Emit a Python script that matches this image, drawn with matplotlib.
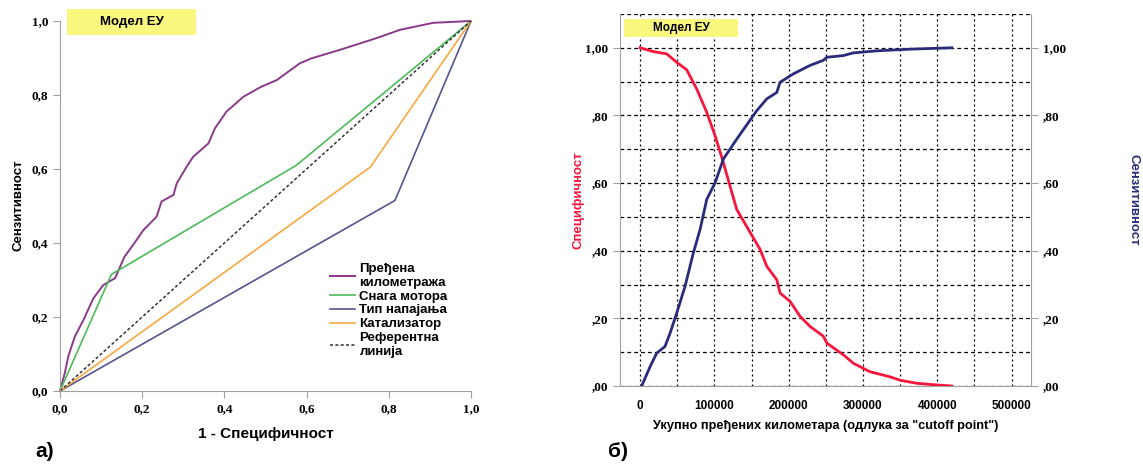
import numpy as np
import matplotlib
matplotlib.use('Agg')
import matplotlib.pyplot as plt
from matplotlib.patches import Rectangle

# ---- data: ROC curves (panel a)
km_fpr = [0, 0.012, 0.02, 0.036, 0.057, 0.081, 0.105, 0.134, 0.157, 0.178, 0.203,
          0.235, 0.247, 0.276, 0.284, 0.308, 0.324, 0.361, 0.377, 0.405, 0.446,
          0.489, 0.527, 0.584, 0.612, 0.681, 0.771, 0.827, 0.908, 1.0]
km_tpr = [0, 0.05, 0.093, 0.147, 0.192, 0.25, 0.286, 0.305, 0.363, 0.395, 0.435,
          0.471, 0.512, 0.53, 0.561, 0.606, 0.633, 0.669, 0.71, 0.755, 0.795,
          0.822, 0.84, 0.886, 0.899, 0.922, 0.954, 0.976, 0.995, 1.0]
power_fpr = [0, 0.125, 0.575, 1.0]
power_tpr = [0, 0.315, 0.61, 1.0]
fuel_fpr = [0, 0.815, 1.0]
fuel_tpr = [0, 0.515, 1.0]
cat_fpr = [0, 0.755, 1.0]
cat_tpr = [0, 0.605, 1.0]

# ---- data: cutoff curves (panel b)
spec_km = [0, 17500, 36000, 49400, 62800, 76300, 89800, 101000, 112100, 121100,
           130100, 145800, 161500, 170500, 184000, 188400, 201900, 215300, 228800,
           246700, 251200, 273600, 287100, 309600, 336500, 350000, 372400, 399300, 419500]
spec_val = [1.0, 0.989, 0.982, 0.957, 0.935, 0.878, 0.809, 0.74, 0.661, 0.591,
            0.522, 0.463, 0.404, 0.354, 0.314, 0.275, 0.25, 0.206, 0.176,
            0.147, 0.127, 0.092, 0.067, 0.042, 0.027, 0.017, 0.008, 0.003, 0.0]
sens_km = [2200, 13500, 22400, 33600, 40400, 49400, 60600, 71800, 80800, 89800,
           101000, 112100, 130100, 141300, 157000, 170500, 184000, 188400, 206300,
           228800, 246700, 251200, 273600, 287100, 318600, 363400, 419500]
sens_val = [0.0, 0.057, 0.097, 0.117, 0.156, 0.216, 0.295, 0.394, 0.463, 0.552,
            0.601, 0.671, 0.73, 0.765, 0.814, 0.849, 0.868, 0.898, 0.923,
            0.948, 0.963, 0.972, 0.977, 0.985, 0.991, 0.996, 1.0]

SERIF = 'Liberation Serif'
SANS = 'Liberation Sans'
YELLOW = '#f9f77e'
SPINE = '#a0a0a0'
RED = '#f5163c'
NAVY = '#2b2b7c'

fig = plt.figure(figsize=(11.43, 4.66), dpi=100)


def bold_serif(labels):
    for lab in labels:
        lab.set_fontfamily(SERIF)
        lab.set_fontweight('bold')


def model_box(x, y, w, h, size):
    # yellow "Модел ЕУ" label box, figure coordinates
    fig.patches.append(Rectangle((x, y), w, h, transform=fig.transFigure,
                                 fc=YELLOW, ec='none', zorder=5))
    fig.text(x + w / 2, y + h / 2, 'Модел ЕУ', ha='center', va='center',
             family=SANS, weight='bold', fontsize=size, zorder=6)


# ================= panel a =================
ax = fig.add_axes([0.0525, 0.161, 0.3596, 0.794])
ax.plot(km_fpr, km_tpr, color='#8a3a8a', lw=1.4, label='Пређена\nкилометража', clip_on=False)
ax.plot(power_fpr, power_tpr, color='#4cbb5a', lw=1.2, label='Снага мотора', clip_on=False)
ax.plot(fuel_fpr, fuel_tpr, color='#54548f', lw=1.2, label='Тип напајања', clip_on=False)
ax.plot(cat_fpr, cat_tpr, color='#f8a840', lw=1.2, label='Катализатор', clip_on=False)
ax.plot([0, 1], [0, 1], color='#333333', lw=1.1, ls=(0, (2, 1.5)), label='Референтна\nлинија', clip_on=False)
ax.set_xlim(0, 1)
ax.set_ylim(0, 1)
ax.spines['top'].set_visible(False)
ax.spines['right'].set_visible(False)
for s in ['left', 'bottom']:
    ax.spines[s].set_color(SPINE)
ticks = np.arange(0, 1.01, 0.2)
ax.set_xticks(ticks)
ax.set_yticks(ticks)
ax.set_xticklabels([f'{t:.1f}'.replace('.', ',') for t in ticks])
ax.set_yticklabels([f'{t:.1f}'.replace('.', ',') for t in ticks])
ax.tick_params(length=5, color=SPINE, labelsize=9.5)
ax.tick_params(axis='x', pad=4)
bold_serif(ax.get_xticklabels() + ax.get_yticklabels())
ax.set_xlabel('1 - Специфичност', family=SANS, weight='bold', fontsize=11, labelpad=8)
fig.text(0.016, 0.56, 'Сензитивност', rotation=90, ha='center', va='center',
         family=SANS, weight='bold', fontsize=9.5)
ax.legend(loc='upper left', bbox_to_anchor=(0.645, 0.36), frameon=False,
          prop={'family': SANS, 'weight': 'bold', 'size': 9.5},
          handlelength=1.9, handletextpad=0.3, labelspacing=0.12, borderaxespad=0)
model_box(0.0586, 0.9249, 0.1129, 0.0558, 9.5)
fig.text(0.0306, 0.02, 'а)', family=SANS, weight='bold', fontsize=15)

# ================= panel b =================
bx = fig.add_axes([0.5424, 0.1717, 0.3596, 0.7983])
bx.plot(spec_km, spec_val, color=RED, lw=2.0, zorder=3)
bx.set_xlim(-27000, 526000)
bx.set_ylim(0, 1.1)
bx.set_xticks(np.arange(0, 500001, 100000))
bx.set_xticks(np.arange(0, 500001, 50000), minor=True)
bx.set_yticks(np.arange(0, 1.01, 0.2))
bx.set_yticks(np.arange(0, 1.11, 0.1), minor=True)
bx.grid(True, axis='y', which='both', color='black', lw=0.9, ls=(0, (3, 2.5)))
bx.grid(True, axis='x', which='both', color='black', lw=0.9, ls=(0, (1.6, 2.4)))
bx.set_axisbelow(True)
for s in ['left', 'right', 'bottom']:
    bx.spines[s].set_color(SPINE)
bx.spines['top'].set_visible(False)
bx.tick_params(which='minor', length=0)
bx.tick_params(axis='x', which='major', length=0, labelsize=8.5, pad=10)
bx.tick_params(axis='y', which='major', length=5, color=SPINE, labelsize=9.5)
ylabs = [f'{t:.2f}'.replace('0.', '.').replace('.', ',') for t in np.arange(0, 1.01, 0.2)]
bx.set_yticklabels(ylabs)
bx.set_xticklabels([str(v) for v in range(0, 500001, 100000)])
bold_serif(bx.get_yticklabels())
for lab in bx.get_xticklabels():
    lab.set_fontfamily(SANS)
    lab.set_fontweight('bold')
bx.set_xlabel('Укупно пређених километара (одлука за "cutoff point")', family=SANS,
              weight='bold', fontsize=9.2, labelpad=6)
fig.text(0.5057, 0.571, 'Специфичност', rotation=90, ha='center', va='center',
         family=SANS, weight='bold', fontsize=9.5, color=RED)

tx = bx.twinx()
tx.plot(sens_km, sens_val, color=NAVY, lw=2.0)
tx.set_ylim(0, 1.1)
tx.set_yticks(np.arange(0, 1.01, 0.2))
tx.set_yticklabels(ylabs)
tx.tick_params(axis='y', length=5, color=SPINE, labelsize=9.5)
bold_serif(tx.get_yticklabels())
for s in tx.spines.values():
    s.set_visible(False)
fig.text(0.9913, 0.571, 'Сензитивност', rotation=270, ha='center', va='center',
         family=SANS, weight='bold', fontsize=9.5, color=NAVY)
model_box(0.5459, 0.9206, 0.0997, 0.0386, 8.5)
fig.text(0.532, 0.02, 'б)', family=SANS, weight='bold', fontsize=15)

fig.savefig('out.png', dpi=100)
